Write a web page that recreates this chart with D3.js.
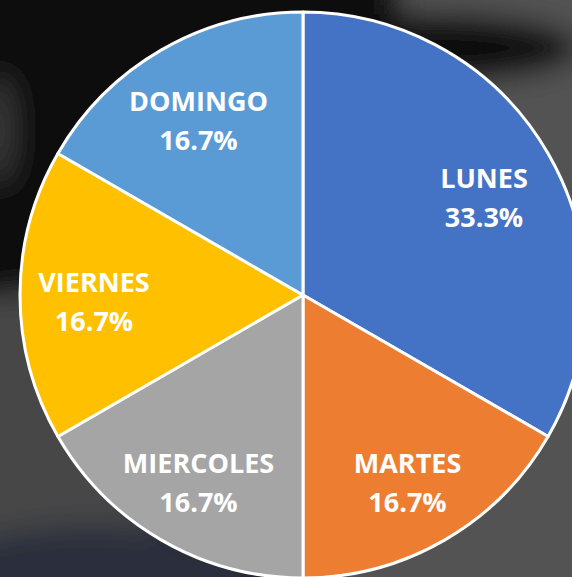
<!DOCTYPE html>
<html>
<head>
<meta charset="utf-8">
<script src="https://cdn.jsdelivr.net/npm/d3@7"></script>
<style>
  body { margin: 0; background: #0a0a0a; overflow: hidden; }
  svg { display: block; }
</style>
</head>
<body>
<div id="chart"></div>
<script>
// data
var days = ["LUNES", "MARTES", "MIERCOLES", "VIERNES", "DOMINGO"];
var counts = [2, 1, 1, 1, 1];
var sliceColors = ["#4472C4", "#ED7D31", "#A5A5A5", "#FFC000", "#5B9BD5"];

var width = 572, height = 577;
var cx = 303, cy = 295, radius = 283;

var svg = d3.select("#chart").append("svg")
    .attr("width", width)
    .attr("height", height);

// blurry photo background
var defs = svg.append("defs");
defs.append("filter").attr("id", "blur")
    .attr("x", "-50%").attr("y", "-50%").attr("width", "200%").attr("height", "200%")
  .append("feGaussianBlur").attr("stdDeviation", 14);

var bg = svg.append("g").attr("filter", "url(#blur)");
bg.append("rect").attr("x", -40).attr("y", -40).attr("width", width + 80).attr("height", height + 80).attr("fill", "#070707");
// gray right side
bg.append("rect").attr("x", 330).attr("y", -40).attr("width", 300).attr("height", 700).attr("fill", "#525252");
// dark streak top right
bg.append("ellipse").attr("cx", 430).attr("cy", 48).attr("rx", 150).attr("ry", 34).attr("fill", "#080808");
bg.append("rect").attr("x", 200).attr("y", -40).attr("width", 200).attr("height", 100).attr("fill", "#080808");
// gray lower left
bg.append("path").attr("d", "M-40,300 L40,290 Q50,430 160,520 L220,620 L-40,620 Z").attr("fill", "#474747");
bg.append("path").attr("d", "M-40,545 Q120,500 260,560 L260,620 L-40,620 Z").attr("fill", "#2c2f3c");
// faint gray on left edge
bg.append("ellipse").attr("cx", 0).attr("cy", 130).attr("rx", 14).attr("ry", 55).attr("fill", "#3a3a3a");

var pie = d3.pie().sort(null).value(function(d) { return d; });
var arcs = pie(counts);
var total = d3.sum(counts);

var arc = d3.arc().innerRadius(0).outerRadius(radius);
var labelArc = d3.arc().innerRadius(209).outerRadius(209);

var g = svg.append("g")
    .attr("transform", "translate(" + cx + "," + cy + ")");

g.selectAll("path.slice")
    .data(arcs)
    .enter().append("path")
    .attr("class", "slice")
    .attr("d", arc)
    .attr("fill", function(d, i) { return sliceColors[i]; })
    .attr("stroke", "#fff")
    .attr("stroke-width", 3)
    .attr("stroke-linejoin", "round");

var labels = g.selectAll("text.lbl")
    .data(arcs)
    .enter().append("text")
    .attr("class", "lbl")
    .attr("transform", function(d) { return "translate(" + labelArc.centroid(d) + ")"; })
    .attr("text-anchor", "middle")
    .attr("fill", "#fff")
    .style("font-family", "'Open Sans', sans-serif")
    .style("font-weight", "700")
    .style("font-size", "27px");

labels.append("tspan")
    .attr("x", 0)
    .attr("y", -3)
    .text(function(d, i) { return days[i]; });

labels.append("tspan")
    .attr("x", 0)
    .attr("y", 36)
    .text(function(d) { return (d.value / total * 100).toFixed(1) + "%"; });
</script>
</body>
</html>
